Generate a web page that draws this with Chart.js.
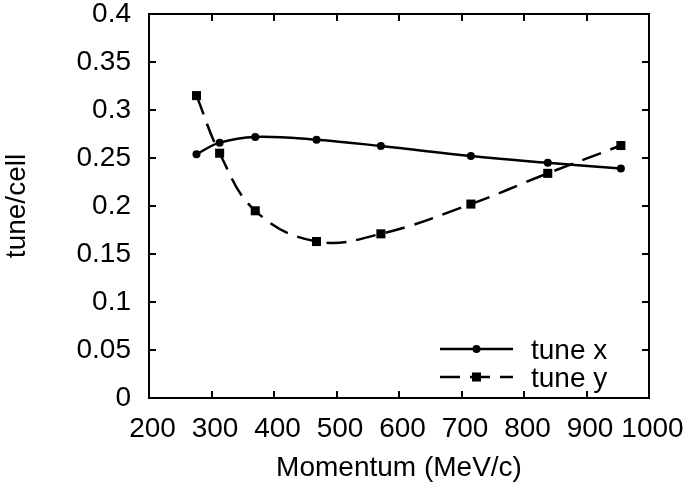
<!DOCTYPE html>
<html>
<head>
<meta charset="utf-8">
<script src="https://cdn.jsdelivr.net/npm/chart.js@4"></script>
<style>
html, body { margin: 0; padding: 0; background: #fff; }
#wrap { width: 686px; height: 488px; }
</style>
</head>
<body>
<div id="wrap"><canvas id="tune-chart" width="686" height="488"></canvas></div>
<script>
// values
const momentum = [276, 313, 370, 468, 571, 715, 838, 955];
const tuneX = [0.254, 0.266, 0.272, 0.269, 0.2625, 0.252, 0.245, 0.239];
const tuneY = [0.315, 0.255, 0.195, 0.163, 0.171, 0.202, 0.234, 0.263];
const xTicks = [200, 300, 400, 500, 600, 700, 800, 900, 1000];
const yTicks = [0, 0.05, 0.1, 0.15, 0.2, 0.25, 0.3, 0.35, 0.4];
const seriesNames = ['tune x', 'tune y'];

const FONT = '"Liberation Sans", Arial, Helvetica, sans-serif';

function toPoints(xs, ys) {
    return xs.map((x, i) => ({ x: x, y: ys[i] }));
}

// gnuplot-like box with inward ticks on all four sides
const framePlugin = {
    id: 'frame',
    beforeDatasetsDraw(chart) {
        const { ctx, chartArea: a, scales } = chart;
        const tl = 7;
        ctx.save();
        ctx.strokeStyle = '#000';
        ctx.lineWidth = 2;
        ctx.beginPath();
        xTicks.forEach(v => {
            const px = Math.round(scales.x.getPixelForValue(v));
            ctx.moveTo(px, a.bottom); ctx.lineTo(px, a.bottom - tl);
            ctx.moveTo(px, a.top); ctx.lineTo(px, a.top + tl);
        });
        yTicks.forEach(v => {
            const py = Math.round(scales.y.getPixelForValue(v));
            ctx.moveTo(a.left, py); ctx.lineTo(a.left + tl, py);
            ctx.moveTo(a.right, py); ctx.lineTo(a.right - tl, py);
        });
        ctx.stroke();
        ctx.strokeRect(a.left, a.top, a.right - a.left, a.bottom - a.top);
        ctx.restore();
    }
};

// legend in the lower right: line sample with marker, then the label
const keyPlugin = {
    id: 'key',
    afterDraw(chart) {
        const { ctx } = chart;
        const x0 = 440, x1 = 513, tx = 531;
        const rows = [349, 377];
        ctx.save();
        chart.data.datasets.forEach((ds, i) => {
            const y = rows[i];
            ctx.strokeStyle = '#000';
            ctx.lineWidth = ds.borderWidth;
            ctx.setLineDash(ds.borderDash || []);
            ctx.beginPath();
            ctx.moveTo(x0, y); ctx.lineTo(x1, y);
            ctx.stroke();
            ctx.setLineDash([]);
            Chart.helpers.drawPoint(ctx, {
                pointStyle: ds.pointStyle,
                radius: ds.pointRadius,
                borderWidth: 0
            }, (x0 + x1) / 2, y);
            ctx.fillStyle = '#000';
            ctx.font = '28px ' + FONT;
            ctx.textBaseline = 'alphabetic';
            ctx.textAlign = 'left';
            ctx.fillText(ds.label, tx, y + 10);
        });
        ctx.restore();
    }
};

function createChart() {
    const ctx = document.getElementById('tune-chart').getContext('2d');
    return new Chart(ctx, {
        type: 'line',
        data: {
            datasets: [
                {
                    label: seriesNames[0],
                    data: toPoints(momentum, tuneX),
                    borderColor: '#000',
                    backgroundColor: '#000',
                    borderWidth: 2.5,
                    pointStyle: 'circle',
                    pointRadius: 4,
                    pointBorderWidth: 0,
                    tension: 0.4,
                    fill: false
                },
                {
                    label: seriesNames[1],
                    data: toPoints(momentum, tuneY),
                    borderColor: '#000',
                    backgroundColor: '#000',
                    borderWidth: 2.5,
                    borderDash: [20, 10],
                    pointStyle: 'rect',
                    pointRadius: 6.4,
                    pointBorderWidth: 0,
                    tension: 0.4,
                    fill: false
                }
            ]
        },
        options: {
            responsive: false,
            animation: false,
            devicePixelRatio: 1,
            layout: { padding: { top: 14, right: 37, left: 0, bottom: 0 } },
            plugins: {
                legend: { display: false },
                tooltip: { enabled: false }
            },
            scales: {
                x: {
                    type: 'linear',
                    min: 200,
                    max: 1000,
                    afterFit: s => {
                        s.height = 90;
                        s.paddingLeft = 0;
                        s.paddingRight = 0;
                    },
                    afterBuildTicks: s => { s.ticks = xTicks.map(v => ({ value: v })); },
                    grid: { display: false, drawTicks: false },
                    border: { display: false },
                    ticks: {
                        color: '#000',
                        font: { family: FONT, size: 28 },
                        padding: 14,
                        labelOffset: 3.5,
                        maxRotation: 0,
                        autoSkip: false,
                        callback: v => String(v)
                    },
                    title: {
                        display: true,
                        text: 'Momentum (MeV/c)',
                        color: '#000',
                        font: { family: FONT, size: 28 },
                        padding: { top: 0, bottom: 3 }
                    }
                },
                y: {
                    type: 'linear',
                    min: 0,
                    max: 0.4,
                    afterFit: s => {
                        s.width = 149;
                        s.paddingTop = 0;
                        s.paddingBottom = 0;
                    },
                    afterBuildTicks: s => { s.ticks = yTicks.map(v => ({ value: v })); },
                    grid: { display: false, drawTicks: false },
                    border: { display: false },
                    ticks: {
                        color: '#000',
                        font: { family: FONT, size: 28 },
                        padding: 18,
                        autoSkip: false,
                        callback: v => String(v)
                    },
                    title: {
                        display: true,
                        text: 'tune/cell',
                        color: '#000',
                        font: { family: FONT, size: 28 },
                        padding: { top: 0, bottom: 0 }
                    }
                }
            }
        },
        plugins: [framePlugin, keyPlugin]
    });
}

document.addEventListener('DOMContentLoaded', function() {
    createChart();
});
</script>
</body>
</html>
